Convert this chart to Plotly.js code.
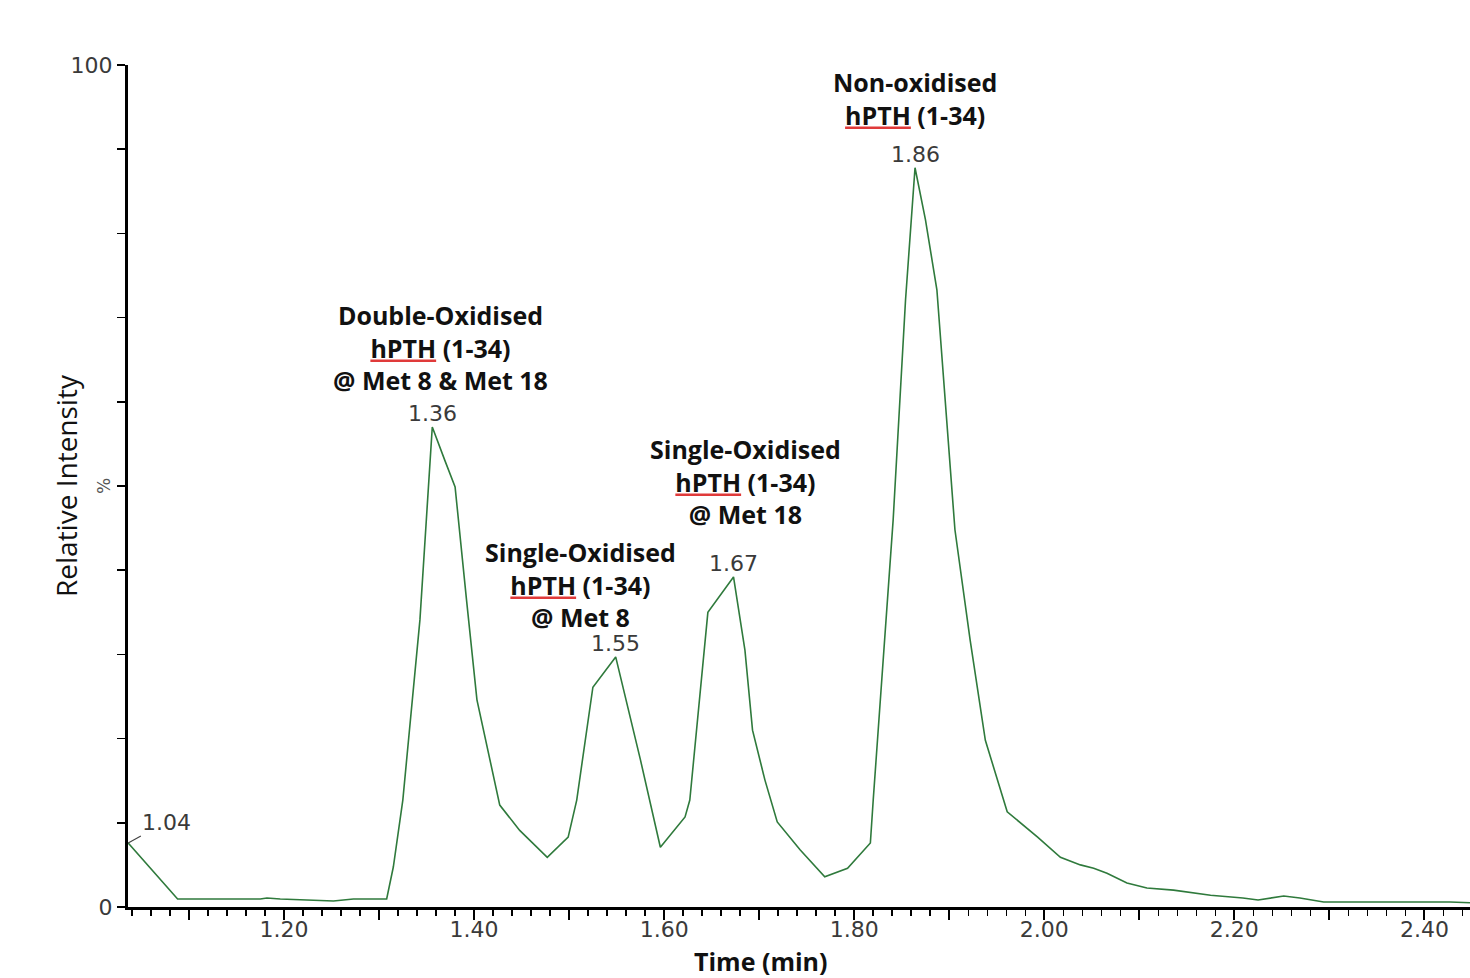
<!DOCTYPE html>
<html>
<head>
<meta charset="utf-8">
<script src="https://cdn.plot.ly/plotly-3.0.1.min.js"></script>
<style>html,body{margin:0;padding:0;background:#fff;}#chart{width:1470px;height:978px;}</style>
</head>
<body>
<div id="chart"></div>
<script>
// Retention time (min) and relative intensity (%)
const timeMin = [1.036,1.088,1.175,1.182,1.196,1.252,1.273,1.308,1.315,1.325,1.343,1.356,1.369,1.380,1.392,1.403,1.427,1.448,1.477,1.499,1.508,1.525,1.549,1.575,1.596,1.622,1.627,1.635,1.646,1.673,1.685,1.693,1.706,1.719,1.743,1.769,1.793,1.817,1.820,1.841,1.854,1.864,1.875,1.887,1.906,1.922,1.938,1.961,1.993,2.017,2.038,2.052,2.066,2.087,2.108,2.136,2.175,2.209,2.225,2.252,2.269,2.294,2.427,2.448];
const intensity = [7.6,0.95,0.95,1.07,0.95,0.71,0.95,0.95,4.75,12.7,34.1,57.0,53.1,49.9,36.5,24.6,12.1,9.1,5.9,8.3,12.7,26.1,29.7,17.5,7.1,10.7,12.7,22.2,35.0,39.2,30.5,21.0,15.1,10.1,6.8,3.6,4.6,7.6,12.7,46.0,72.1,87.8,81.6,73.3,44.8,31.7,19.8,11.3,8.3,5.9,5.0,4.6,4.0,2.85,2.26,2.0,1.4,1.07,0.83,1.3,1.07,0.6,0.6,0.5];

// Peak apex labels
const peakTimes = [1.04, 1.36, 1.55, 1.67, 1.86];
const peakLabels = ["1.04", "1.36", "1.55", "1.67", "1.86"];

// Compound names attached to peaks (index into peakTimes)
const compoundPeakIndex = [1, 2, 3, 4];
const UL = "<span style=\"text-decoration:underline;color:#e03a3a\"><span style=\"color:#111\">hPTH</span></span>";
const compoundNames = [
  "Double-Oxidised<br>" + UL + " (1-34)<br>@ Met 8 & Met 18",
  "Single-Oxidised<br>" + UL + " (1-34)<br>@ Met 8",
  "Single-Oxidised<br>" + UL + " (1-34)<br>@ Met 18",
  "Non-oxidised<br>" + UL + " (1-34)"
];
const compoundShiftX = [8, -35, 12, 0];
const compoundShiftY = [28, 21, 44, 34];

// Axis ticks
const xTickVals = [1.1,1.2,1.3,1.4,1.5,1.6,1.7,1.8,1.9,2.0,2.1,2.2,2.3,2.4];
const xTickText = ["","1.20","","1.40","","1.60","","1.80","","2.00","","2.20","","2.40"];
const yTickVals = [0,10,20,30,40,50,60,70,80,90,100];
const yTickText = ["0","","","","","","","","","","100"];

// locate apex of each labelled peak in the data
function apex(t) {
  let best = -1;
  for (let i = 0; i < timeMin.length; i++) {
    if (Math.abs(timeMin[i] - t) <= 0.015 && (best < 0 || intensity[i] > intensity[best])) best = i;
  }
  return best;
}
const apexIdx = peakTimes.map(apex);

const tickFont = {family: "DejaVu Sans, sans-serif", size: 22, color: "#3a3a3a"};
const labelFont = {family: "Open Sans, sans-serif", size: 25, color: "#111"};
const annotations = [];
peakLabels.forEach((lab, k) => {
  const i = apexIdx[k];
  if (k === 0) {
    annotations.push({x: timeMin[i], y: intensity[i], xref: "x", yref: "y", text: lab,
      showarrow: true, arrowhead: 0, arrowwidth: 1.2, arrowcolor: "#444", ax: 38, ay: -21,
      font: tickFont, standoff: 0});
  } else {
    annotations.push({x: timeMin[i], y: intensity[i], xref: "x", yref: "y", text: lab,
      showarrow: false, yanchor: "bottom", yshift: -1, font: tickFont});
  }
});
compoundNames.forEach((name, k) => {
  const i = apexIdx[compoundPeakIndex[k]];
  annotations.push({x: timeMin[i], y: intensity[i], xref: "x", yref: "y", text: "<b>" + name + "</b>",
    showarrow: false, yanchor: "bottom", xanchor: "center", align: "center",
    xshift: compoundShiftX[k], yshift: compoundShiftY[k], font: labelFont});
});
annotations.push({x: 0, xref: "paper", xanchor: "right", xshift: -12, y: 50, yref: "y", text: "%",
  textangle: -90, showarrow: false, font: {family: "DejaVu Sans, sans-serif", size: 17, color: "#555"}});
annotations.push({x: 0, xref: "paper", xanchor: "center", xshift: -62, y: 0.5, yref: "paper",
  text: "Relative Intensity", textangle: -90, showarrow: false,
  font: {family: "Open Sans, sans-serif", size: 28, color: "#111"}});
annotations.push({x: 0.5, xref: "paper", xanchor: "center", xshift: -39, y: 0, yref: "paper",
  yanchor: "top", yshift: -35, text: "<b>Time (min)</b>", showarrow: false,
  font: {family: "Open Sans, sans-serif", size: 25, color: "#111"}});

const trace = {
  x: timeMin, y: intensity, type: "scatter", mode: "lines",
  line: {color: "#2f7a3c", width: 1.6}, hoverinfo: "x+y"
};

const layout = {
  width: 1470, height: 978,
  margin: {l: 128, r: 0, t: 65, b: 71},
  paper_bgcolor: "#fff", plot_bgcolor: "#fff",
  showlegend: false,
  xaxis: {
    range: [1.0358, 2.448], showgrid: false, zeroline: false,
    showline: true, linecolor: "#000", linewidth: 3,
    tickmode: "array", tickvals: xTickVals, ticktext: xTickText,
    ticks: "outside", ticklen: 10, tickwidth: 2, tickcolor: "#000",
    ticklabelstandoff: -9,
    minor: {dtick: 0.02, tick0: 1.0, ticks: "outside", ticklen: 6, tickwidth: 1.5, tickcolor: "#000"},
    tickfont: tickFont
  },
  yaxis: {
    range: [0, 100], showgrid: false, zeroline: false,
    showline: true, linecolor: "#000", linewidth: 3,
    tickmode: "array", tickvals: yTickVals, ticktext: yTickText,
    ticks: "outside", ticklen: 8, tickwidth: 1.5, tickcolor: "#000",
    tickfont: tickFont
  },
  annotations: annotations
};

Plotly.newPlot("chart", [trace], layout, {displayModeBar: false, staticPlot: true});
</script>
</body>
</html>
